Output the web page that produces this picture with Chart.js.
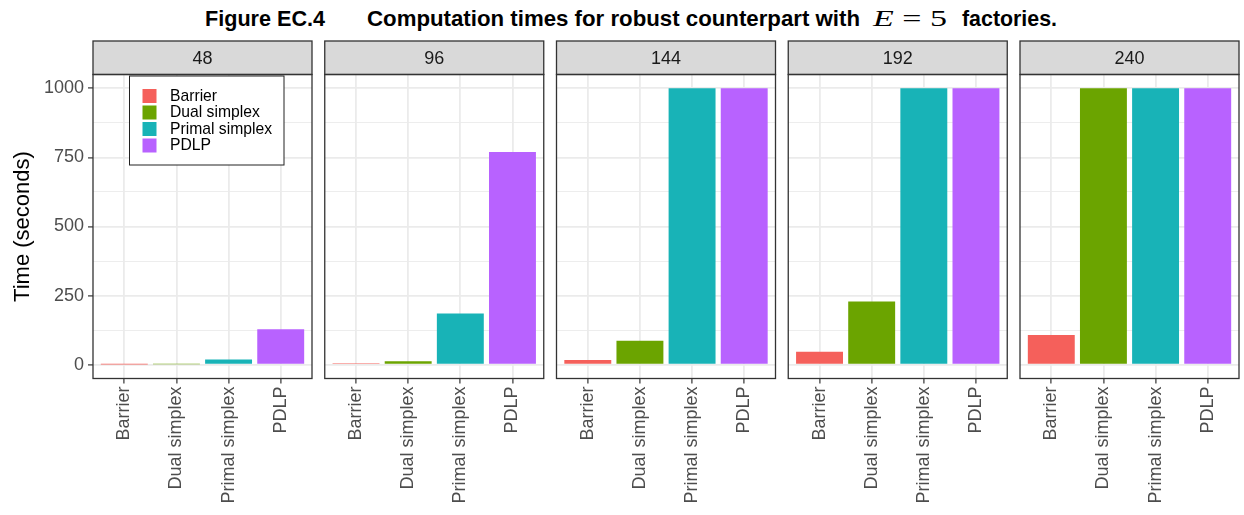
<!DOCTYPE html>
<html><head><meta charset="utf-8">
<script src="https://cdn.jsdelivr.net/npm/chart.js@4.4.1/dist/chart.umd.min.js"></script>
<style>
html,body{margin:0;padding:0;background:#fff;width:1244px;height:515px;overflow:hidden;}
canvas{position:absolute;left:0;top:0;}
#title{position:absolute;left:0;top:0;}
</style></head><body>
<svg id="title" width="1244" height="40" xmlns="http://www.w3.org/2000/svg">
  <text x="205" y="26" font-family="Liberation Sans, Arial, sans-serif" font-weight="bold" font-size="22.5" textLength="120" lengthAdjust="spacingAndGlyphs" fill="#000">Figure EC.4</text>
  <text x="367" y="26" font-family="Liberation Sans, Arial, sans-serif" font-weight="bold" font-size="22.5" textLength="493" lengthAdjust="spacingAndGlyphs" fill="#000">Computation times for robust counterpart with</text>
  <text x="873" y="26" font-family="Liberation Serif, DejaVu Serif, serif" font-size="23" textLength="74" lengthAdjust="spacingAndGlyphs" fill="#000"><tspan font-style="italic">E</tspan> = 5</text>
  <text x="962" y="26" font-family="Liberation Sans, Arial, sans-serif" font-weight="bold" font-size="22.5" textLength="95" lengthAdjust="spacingAndGlyphs" fill="#000">factories.</text>
</svg>
<canvas id="c0" width="1244" height="515"></canvas>
<canvas id="c1" width="1244" height="515"></canvas>
<canvas id="c2" width="1244" height="515"></canvas>
<canvas id="c3" width="1244" height="515"></canvas>
<canvas id="c4" width="1244" height="515"></canvas>
<script>
// ---- data ----
const facets = ['48', '96', '144', '192', '240'];
const methods = ['Barrier', 'Dual simplex', 'Primal simplex', 'PDLP'];
const barrier = [1, 5, 17, 47, 107];
const dualSimplex = [1.5, 12, 87, 229, 1000];
const primalSimplex = [19, 185, 1000, 1000, 1000];
const pdlp = [128, 770, 1000, 1000, 1000];
const yMajorTicks = [0, 250, 500, 750, 1000];
const yMinorTicks = [125, 375, 625, 875];
const methodColors = ['#F5605B', '#6BA400', '#18B3B7', '#B862FF'];
const yTitle = 'Time (seconds)';

// ---- layout ----
const W = 1244, H = 515;
const panelLeft0 = 93, panelPitch = 231.75, panelW = 219;
const stripTop = 41, areaTop = 74.5, areaBottom = 378.5;
const FONT = "'Liberation Sans', Arial, Helvetica, sans-serif";
Chart.defaults.font.family = FONT;

const seriesByMethod = [barrier, dualSimplex, primalSimplex, pdlp];
const allY = yMajorTicks.concat(yMinorTicks).sort((a, b) => a - b);
const isMajor = v => yMajorTicks.includes(v);

const facetPlugin = {
  id: 'facet',
  afterDraw(chart, args, opts) {
    const ctx = chart.ctx, a = chart.chartArea;
    ctx.save();
    // strip
    ctx.fillStyle = '#D9D9D9';
    ctx.fillRect(a.left, stripTop, a.right - a.left, a.top - stripTop);
    ctx.strokeStyle = '#333333';
    ctx.lineWidth = 1.3;
    ctx.strokeRect(a.left, stripTop, a.right - a.left, a.top - stripTop);
    ctx.fillStyle = '#1A1A1A';
    ctx.font = '18px ' + FONT;
    ctx.textAlign = 'center';
    ctx.textBaseline = 'middle';
    ctx.fillText(opts.label, (a.left + a.right) / 2, (stripTop + a.top) / 2 + 1);
    // panel border
    ctx.strokeRect(a.left, a.top, a.right - a.left, a.bottom - a.top);
    // legend
    if (opts.legend) {
      const bx = 129.5, by = 76, bw = 154.5, bh = 89;
      ctx.fillStyle = '#FFFFFF';
      ctx.fillRect(bx, by, bw, bh);
      ctx.strokeStyle = '#222';
      ctx.lineWidth = 1;
      ctx.strokeRect(bx, by, bw, bh);
      ctx.font = '15.7px ' + FONT;
      ctx.textAlign = 'left';
      ctx.textBaseline = 'middle';
      methods.forEach((m, i) => {
        const y = 89 + i * 16.5;
        ctx.fillStyle = methodColors[i];
        ctx.fillRect(142.5, y, 14, 14);
        ctx.fillStyle = '#000';
        ctx.fillText(m, 170, y + 7.5);
      });
    }
    ctx.restore();
  }
};

facets.forEach((f, p) => {
  const x0 = panelLeft0 + p * panelPitch;
  const first = p === 0;
  const yAxisW = first ? x0 : 0;
  const padLeft = x0 - yAxisW;
  const padRight = W - (x0 + panelW);
  const values = seriesByMethod.map(s => s[p]);
  new Chart(document.getElementById('c' + p), {
    type: 'bar',
    data: {
      datasets: [{
        data: values.map((v, i) => ({ x: i + 1, y: v })),
        backgroundColor: methodColors,
        borderWidth: 0,
        barPercentage: 0.9,
        categoryPercentage: 1.0
      }]
    },
    options: {
      responsive: false,
      devicePixelRatio: 1,
      animation: false,
      events: [],
      layout: { padding: { left: padLeft, right: padRight, top: areaTop, bottom: 0 } },
      plugins: {
        legend: { display: false },
        tooltip: { enabled: false },
        facet: { label: f, legend: first }
      },
      scales: {
        x: {
          type: 'linear',
          min: 0.4, max: 4.6,
          offset: false,
          afterBuildTicks: s => { s.ticks = methods.map((m, i) => ({ value: i + 1 })); },
          afterFit: s => { s.height = H - areaBottom; s.paddingLeft = 0; s.paddingRight = 0; },
          border: { display: false },
          grid: { offset: false, color: '#EBEBEB', lineWidth: 1.8, tickColor: '#333333', tickLength: 5, tickWidth: 1.2 },
          ticks: {
            autoSkip: false, maxRotation: 90, minRotation: 90, padding: 3,
            color: '#4D4D4D', font: { size: 18 },
            callback: v => methods[Math.round(v) - 1]
          }
        },
        y: {
          type: 'linear',
          min: -50, max: 1050,
          afterBuildTicks: s => { s.ticks = allY.map(v => ({ value: v })); },
          afterFit: s => { s.width = yAxisW; },
          border: { display: false },
          grid: {
            color: '#EBEBEB',
            lineWidth: c => (c.tick && isMajor(c.tick.value)) ? 1.8 : 0.9,
            drawTicks: first,
            tickLength: 5,
            tickWidth: 1.2,
            tickColor: c => (c.tick && isMajor(c.tick.value)) ? '#333333' : 'rgba(0,0,0,0)'
          },
          ticks: {
            display: first,
            autoSkip: false,
            padding: 4,
            color: '#4D4D4D',
            font: { size: 18 },
            callback: v => isMajor(v) ? String(v) : ''
          },
          title: {
            display: first,
            text: yTitle,
            color: '#000',
            font: { size: 22 },
            padding: { top: 10, bottom: 0 }
          }
        }
      }
    },
    plugins: [facetPlugin]
  });
});
</script>
</body></html>
